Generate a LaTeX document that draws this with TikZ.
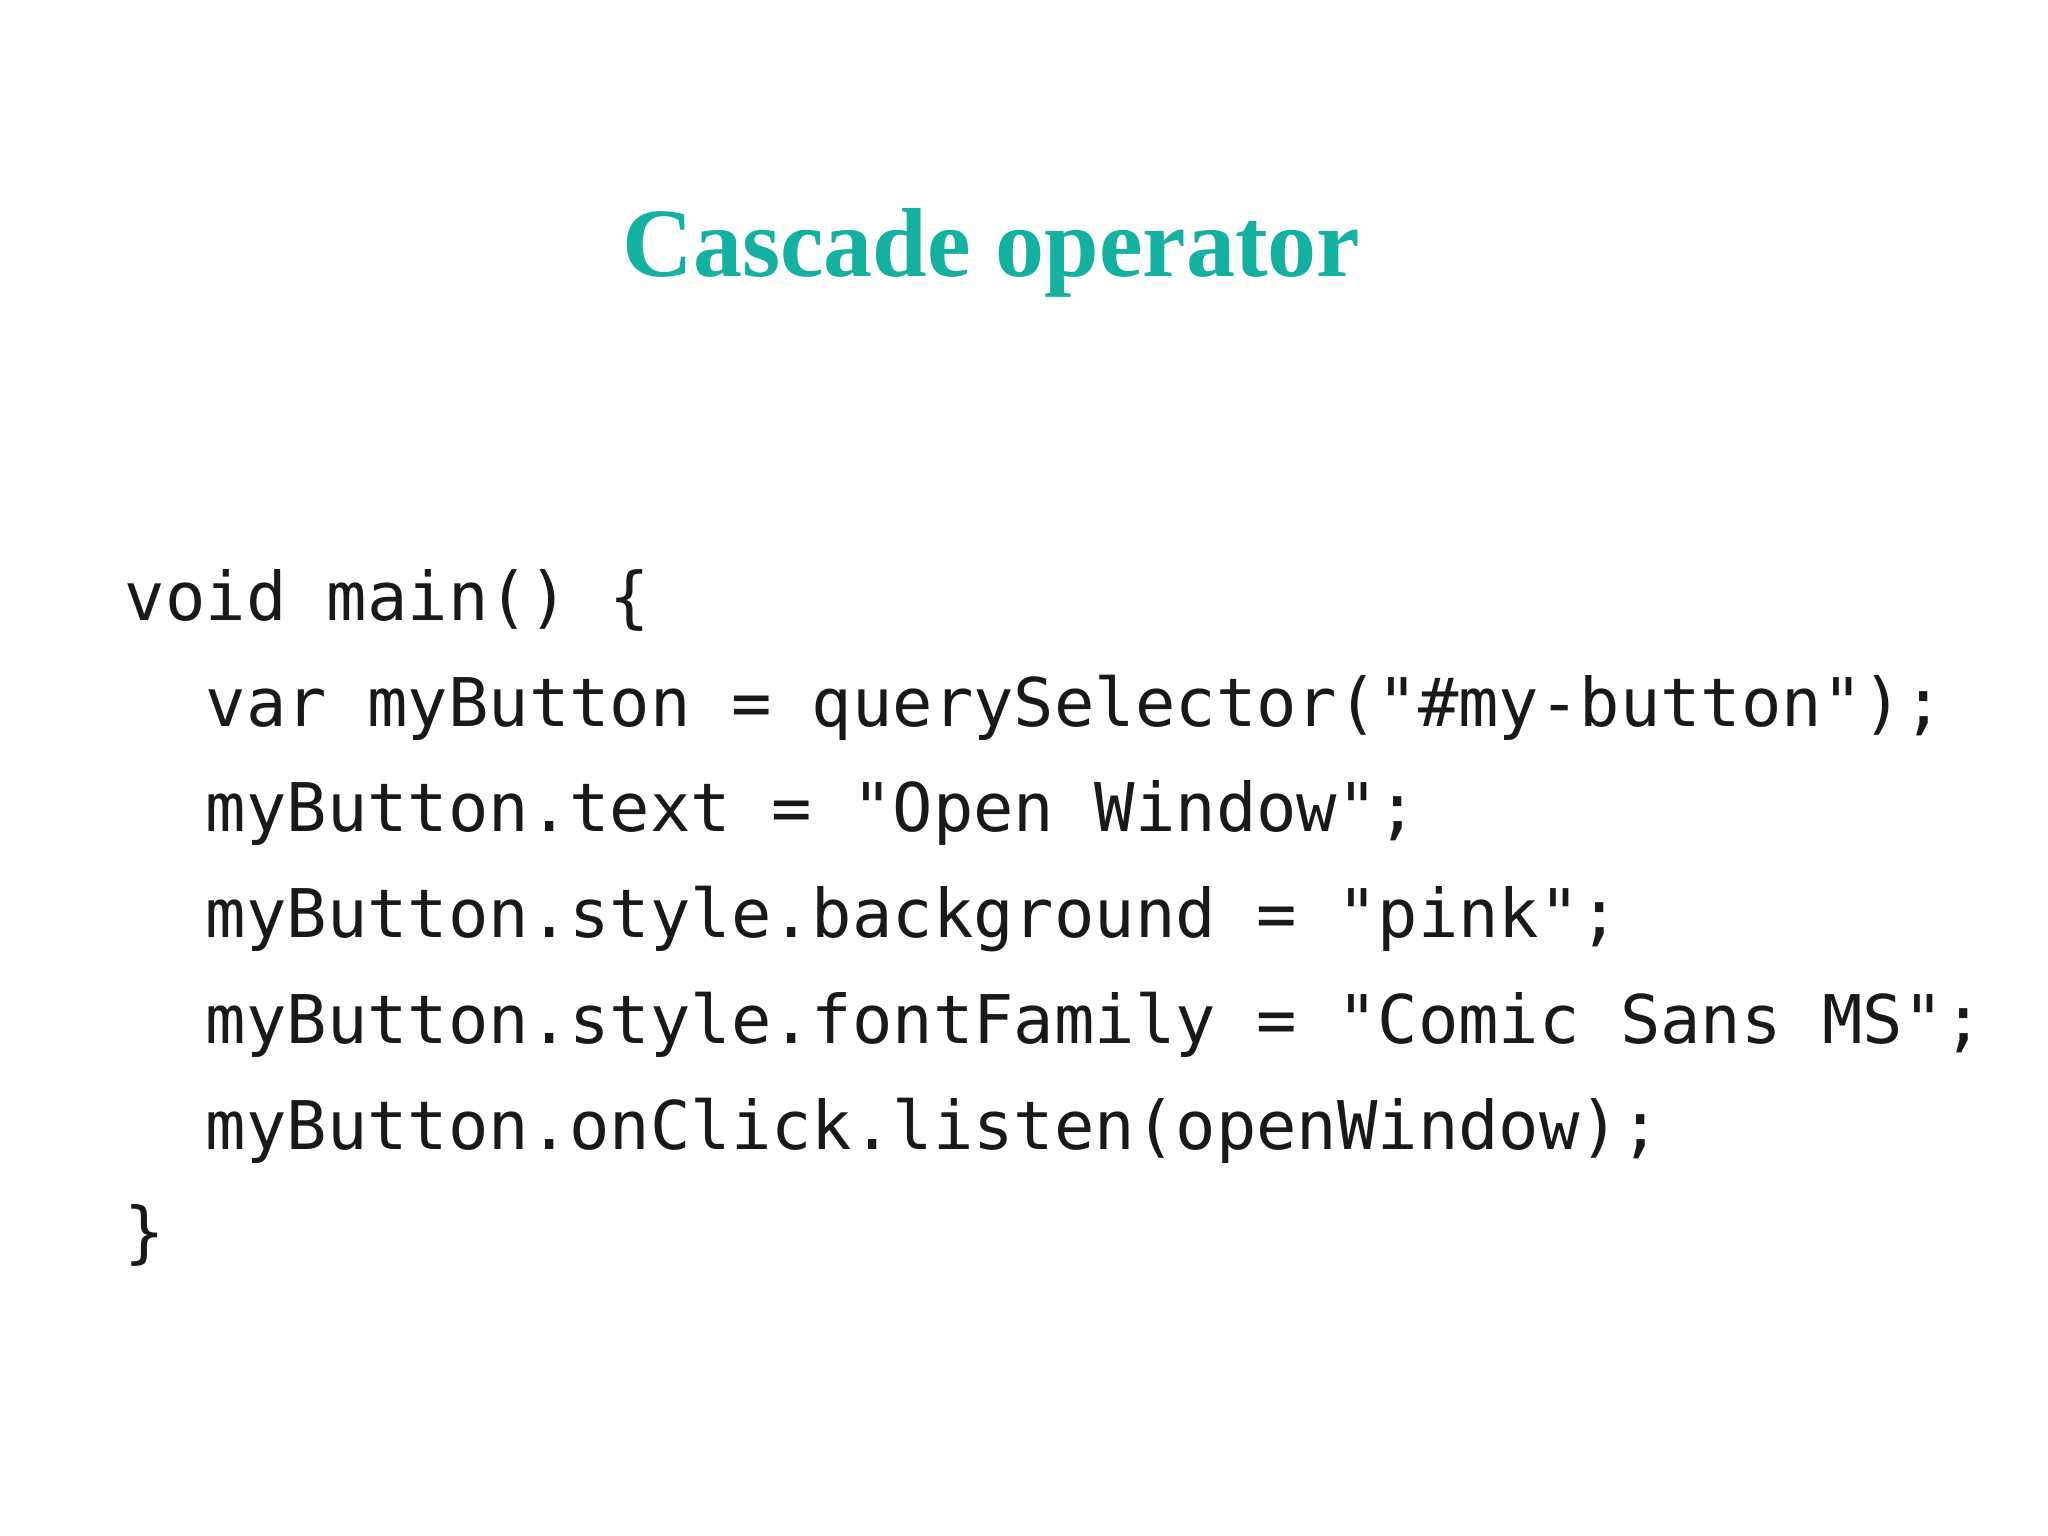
\documentclass[tikz,border=0pt]{standalone}
\usepackage{fontspec}
\setmainfont{Liberation Serif}
\setmonofont{DejaVu Sans Mono}
\definecolor{teal1}{HTML}{14B0A0}
\begin{document}
\begin{tikzpicture}[x=0.013061cm,y=-0.013061cm,
  code/.style={anchor=base west,inner sep=0pt,font=\fontsize{19.1}{22}\selectfont\ttfamily,text=black!90}]
\useasboundingbox (0,0) rectangle (1568,1176);
\node[anchor=base,inner sep=0pt,font=\fontsize{27.9}{30}\selectfont\bfseries,text=teal1] (title) at (759,212) {Cascade operator};
\node[code] (l1) at (95,475) {void main() \{};
\node[code] (l2) at (157,556) {var myButton = querySelector("\#my-button");};
\node[code] (l3) at (157,637) {myButton.text = "Open Window";};
\node[code] (l4) at (157,718) {myButton.style.background = "pink";};
\node[code] (l5) at (157,799) {myButton.style.fontFamily = "Comic Sans MS";};
\node[code] (l6) at (157,880) {myButton.onClick.listen(openWindow);};
\node[code] (l7) at (95,961) {\}};
\end{tikzpicture}
\end{document}
